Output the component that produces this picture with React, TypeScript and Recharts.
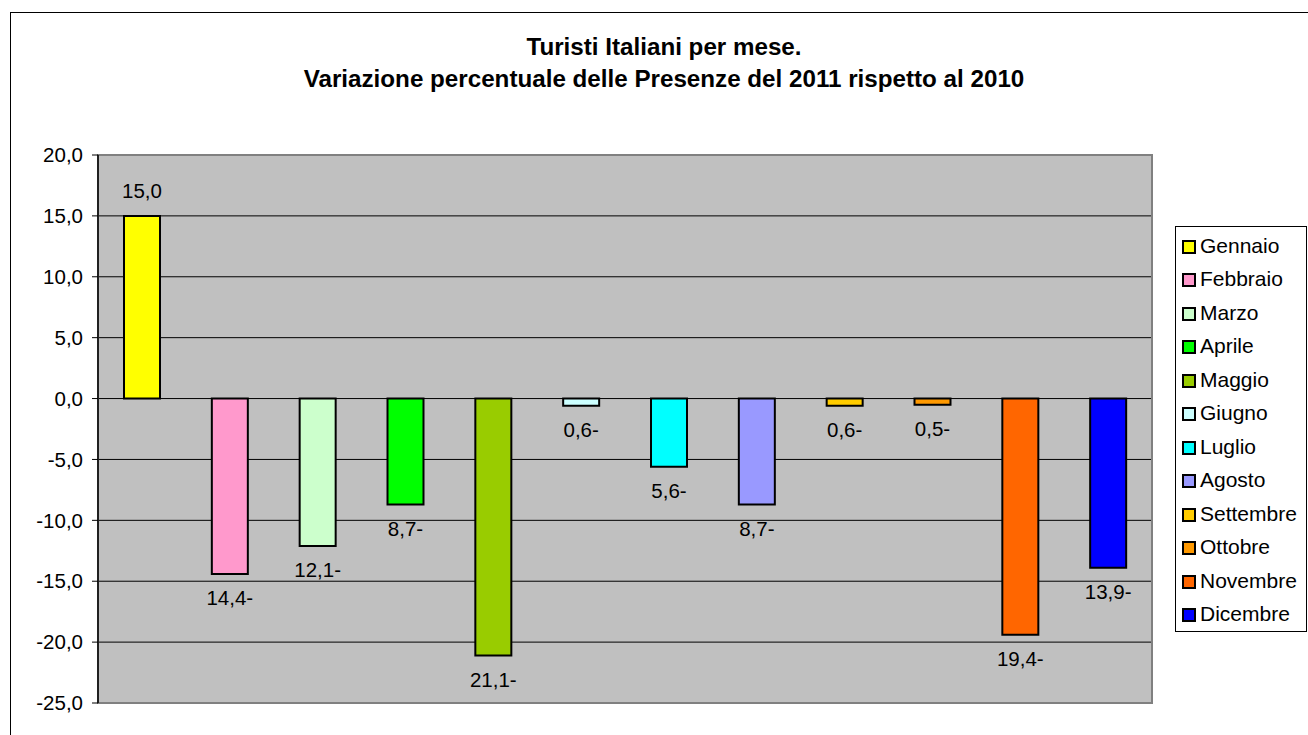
import React from 'react';
import { BarChart, Bar, XAxis, YAxis, CartesianGrid, Cell, LabelList, ReferenceArea, Legend } from 'recharts';

const months = ['Gennaio', 'Febbraio', 'Marzo', 'Aprile', 'Maggio', 'Giugno', 'Luglio', 'Agosto', 'Settembre', 'Ottobre', 'Novembre', 'Dicembre'];
const values = [15.0, -14.4, -12.1, -8.7, -21.1, -0.6, -5.6, -8.7, -0.6, -0.5, -19.4, -13.9];
const colors = ['#FFFF00', '#FF99CC', '#CCFFCC', '#00FF00', '#99CC00', '#CCFFFF', '#00FFFF', '#9999FF', '#FFCC00', '#FF9900', '#FF6600', '#0000FF'];
const yTicks = [-25, -20, -15, -10, -5, 0, 5, 10, 15, 20];
const titleLines = ['Turisti Italiani per mese.', 'Variazione percentuale delle Presenze del 2011 rispetto al 2010'];

const data = months.map((m, i) => ({ month: m, value: values[i] }));

const FONT = 'Arial, "Liberation Sans", sans-serif';

const fmtTick = (v: number) => v.toFixed(1).replace('.', ',');
const fmtLabel = (v: number) => Math.abs(v).toFixed(1).replace('.', ',') + (v < 0 ? '-' : '');

const renderLabel = (props: any) => {
  const { x, y, width, height, value } = props;
  const top = Math.min(y, y + height);
  const bottom = Math.max(y, y + height);
  const cx = x + width / 2;
  const ty = value >= 0 ? top - 18 : bottom + 31;
  return (
    <text x={cx} y={ty} textAnchor="middle" fontSize={20.5} fontFamily={FONT} fill="#000">
      {fmtLabel(value)}
    </text>
  );
};

const renderLegend = () => (
  <div
    style={{
      width: 132,
      height: 406,
      border: '1px solid #000',
      background: '#fff',
      boxSizing: 'border-box',
      position: 'relative',
      fontFamily: FONT,
    }}
  >
    {months.map((m, i) => (
      <div
        key={m}
        style={{
          position: 'absolute',
          left: 6,
          top: 7 + i * 33.45,
          height: 24,
          display: 'flex',
          alignItems: 'center',
          whiteSpace: 'nowrap',
        }}
      >
        <div
          style={{
            width: 10,
            height: 10,
            border: '2px solid #000',
            background: colors[i],
            marginRight: 4,
            marginTop: 2,
          }}
        />
        <span style={{ fontSize: 21, color: '#000', lineHeight: '24px' }}>{m}</span>
      </div>
    ))}
  </div>
);

export default function App() {
  return (
    <div
      style={{
        position: 'absolute',
        left: 0,
        top: 0,
        width: 1308,
        height: 735,
        overflow: 'hidden',
        background: '#fff',
      }}
    >
      <div
        style={{
          position: 'absolute',
          left: 10,
          top: 12,
          width: 1400,
          height: 800,
          border: '1px solid #000',
        }}
      />
      <div style={{ position: 'absolute', left: 0, top: 0 }}>
        <BarChart
          width={1308}
          height={735}
          data={data}
          margin={{ top: 155, right: 156, bottom: 32, left: 38 }}
        >
          <CartesianGrid vertical={false} stroke="#000" strokeWidth={1} fill="#C0C0C0" fillOpacity={1} />
          <ReferenceArea y1={-25} y2={20} fill="none" stroke="#808080" strokeWidth={2} ifOverflow="visible" />
          <XAxis dataKey="month" hide />
          <YAxis
            width={60}
            domain={[-25, 20]}
            ticks={yTicks}
            interval={0}
            tickFormatter={fmtTick}
            tick={{ fontSize: 20.5, fontFamily: FONT, fill: '#000' }}
            tickSize={6}
            tickMargin={9}
            axisLine={{ stroke: '#000', strokeWidth: 1.5 }}
            tickLine={{ stroke: '#000' }}
            allowDataOverflow
          />
          <Legend
            layout="vertical"
            align="center"
            verticalAlign="middle"
            content={renderLegend}
            wrapperStyle={{ left: 1175, top: 226, width: 132, height: 406 }}
          />
          <Bar dataKey="value" barSize={36} stroke="#000" strokeWidth={2} isAnimationActive={false}>
            {data.map((d, i) => (
              <Cell key={d.month} fill={colors[i]} />
            ))}
            <LabelList dataKey="value" content={renderLabel} />
          </Bar>
        </BarChart>
      </div>
      <svg
        width={1308}
        height={735}
        style={{ position: 'absolute', left: 0, top: 0, pointerEvents: 'none' }}
      >
        {titleLines.map((t, i) => (
          <text
            key={i}
            x={664}
            y={55 + i * 31.7}
            textAnchor="middle"
            fontSize={24.2}
            fontWeight="bold"
            fontFamily={FONT}
            fill="#000"
          >
            {t}
          </text>
        ))}
      </svg>
    </div>
  );
}
